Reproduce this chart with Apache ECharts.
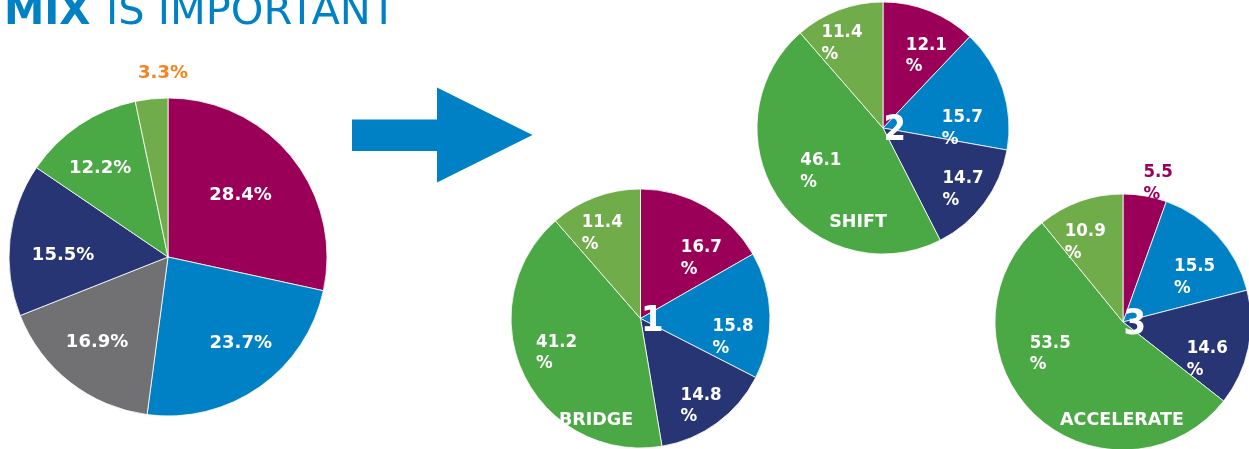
<!DOCTYPE html>
<html><head><meta charset="utf-8">
<script src="https://cdn.jsdelivr.net/npm/echarts@6/dist/echarts.min.js"></script>
<style>html,body{margin:0;padding:0;background:#fff}#c{width:1249px;height:449px}</style>
</head><body><div id="c"></div>
<script>
// ---- data ----
const titleBold = 'MIX';
const titleRest = 'IS IMPORTANT';
const currentNames = ['Segment A', 'Segment B', 'Segment C', 'Segment D', 'Segment E', 'Segment F'];
const currentValues = [28.4, 23.7, 16.9, 15.5, 12.2, 3.3];
const scenarioNames = ['Segment A', 'Segment B', 'Segment D', 'Segment E', 'Segment F'];
const bridgeValues = [16.7, 15.8, 14.8, 41.2, 11.4];
const shiftValues = [12.1, 15.7, 14.7, 46.1, 11.4];
const accelerateValues = [5.5, 15.5, 14.6, 53.5, 10.9];
const scenarioLabels = ['BRIDGE', 'SHIFT', 'ACCELERATE'];
const scenarioNumbers = ['1', '2', '3'];

// ---- styles ----
const MAG = '#9B0058', BLUE = '#0081C6', NAVY = '#283574', GRAY = '#717073',
      GREEN = '#4AA944', LGREEN = '#71AC4B', ORANGE = '#F5821F', W = '#FFFFFF';
const FONT = '"DejaVu Sans", Verdana, sans-serif';
const FONT_C = '"DejaVu Sans Condensed", "DejaVu Sans", sans-serif';
const currentColors = [MAG, BLUE, GRAY, NAVY, GREEN, LGREEN];
const scenarioColors = [MAG, BLUE, NAVY, GREEN, LGREEN];

// layout of each pie (pixels) and label placement tweaks (angle shift in deg, radius fraction)
const pies = [
  { names: currentNames, values: currentValues, colors: currentColors, cx: 168, cy: 257, r: 159,
    font: FONT, fontSize: 18, twoLine: false, labelColors: [W, W, W, W, W, ORANGE],
    shift: [-1.6, -5, 1.6, -5.3, -3.7, 4.4], frac: [0.60, 0.71, 0.70, 0.66, 0.70, 1.156] },
  { names: scenarioNames, values: bridgeValues, colors: scenarioColors, cx: 640.5, cy: 318.5, r: 129.5,
    font: FONT_C, fontSize: 18.5, twoLine: true, labelColors: [W, W, W, W, W],
    shift: [15.3, 12.9, 1.4, 3.1, -3.7], frac: [0.66, 0.73, 0.82, 0.70, 0.72] },
  { names: scenarioNames, values: shiftValues, colors: scenarioColors, cx: 883, cy: 128, r: 126,
    font: FONT_C, fontSize: 18.5, twoLine: true, labelColors: [W, W, W, W, W],
    shift: [9.1, 18.2, 0.9, -0.7, -5.2], frac: [0.67, 0.63, 0.80, 0.60, 0.75] },
  { names: scenarioNames, values: accelerateValues, colors: scenarioColors, cx: 1123, cy: 322, r: 128,
    font: FONT_C, fontSize: 18.5, twoLine: true, labelColors: [MAG, W, W, W, W],
    shift: [4.3, 10.3, 12.1, 22.1, -5.7], frac: [1.12, 0.66, 0.72, 0.62, 0.69] }
];

const chart = echarts.init(document.getElementById('c'), null, { renderer: 'canvas' });

const series = pies.map(function (p) {
  return {
    type: 'pie',
    center: [p.cx, p.cy],
    radius: [0, p.r],
    startAngle: 90,
    clockwise: true,
    avoidLabelOverlap: false,
    silent: true,
    animation: false,
    itemStyle: { borderColor: '#FFFFFF', borderWidth: 0.8 },
    labelLine: { show: false },
    labelLayout: function (params) {
      const lr = params.labelRect;
      const lx = lr.x + lr.width / 2, ly = lr.y + lr.height / 2;
      const ang = Math.atan2(lx - p.cx, -(ly - p.cy)) + p.shift[params.dataIndex] * Math.PI / 180;
      const rr = p.r * p.frac[params.dataIndex];
      return { x: p.cx + rr * Math.sin(ang), y: p.cy - rr * Math.cos(ang) };
    },
    data: p.values.map(function (v, i) {
      const txt = v.toFixed(1);
      const st = { fontFamily: p.font, fontWeight: 'bold', fontSize: p.fontSize, color: p.labelColors[i],
                   lineHeight: 21.7, align: 'left' };
      return {
        value: v,
        name: p.names[i],
        itemStyle: { color: p.colors[i] },
        label: {
          show: true,
          position: 'inside',
          fontFamily: p.font, fontWeight: 'bold', fontSize: p.fontSize, color: p.labelColors[i],
          lineHeight: 21.7,
          formatter: p.twoLine ? ('{v|' + txt + '}\n{v|%}') : (txt + '%'),
          rich: { v: st }
        }
      };
    })
  };
});

const graphics = [
  { type: 'polygon', z: 50, shape: { points: [[352, 119.5], [437, 119.5], [437, 87.5], [532.5, 135], [437, 182.5], [437, 151], [352, 151]] },
    style: { fill: BLUE } },
  { type: 'text', z: 50, x: 4, y: 13.5, style: { text: titleBold, fill: BLUE, fontFamily: FONT, fontWeight: 'bold', fontSize: 40.5, align: 'left', verticalAlign: 'middle' } },
  { type: 'text', z: 50, x: 106, y: 13.5, style: { text: titleRest, fill: BLUE, fontFamily: FONT, fontWeight: 'normal', fontSize: 41.5, align: 'left', verticalAlign: 'middle' } }
];
const namePos = [[596, 420], [858, 222], [1122, 420]];
for (let k = 0; k < 3; k++) {
  const p = pies[k + 1];
  graphics.push({ type: 'text', z: 60, x: p.cx + 0.5, y: p.cy + 3,
    style: { text: scenarioNumbers[k], fill: W, fontFamily: FONT_C, fontWeight: 'bold', fontSize: 36, align: 'left', verticalAlign: 'middle' } });
  graphics.push({ type: 'text', z: 60, x: namePos[k][0], y: namePos[k][1],
    style: { text: scenarioLabels[k], fill: W, fontFamily: FONT, fontWeight: 'bold', fontSize: 17.5, align: 'center', verticalAlign: 'middle' } });
}

chart.setOption({
  backgroundColor: '#FFFFFF',
  animation: false,
  series: series,
  graphic: { elements: graphics }
});
</script>
</body></html>
